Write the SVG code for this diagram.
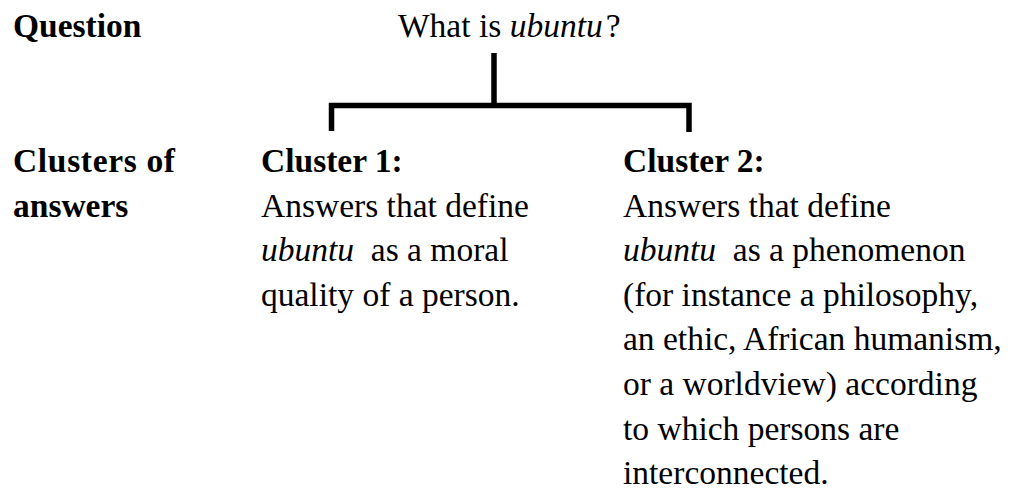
<svg xmlns="http://www.w3.org/2000/svg" width="1010" height="492" viewBox="0 0 1010 492">
<style>
text{font-family:"Liberation Serif","Times New Roman",serif;font-size:33.5px;fill:#000}
.b{font-weight:bold}
.i{font-style:italic}
.conn{fill:none;stroke:#000;stroke-width:5.5;stroke-linecap:butt;stroke-linejoin:miter}
</style>
<rect width="1010" height="492" fill="#fff"/>
<g id="label-question"><text class="b" x="13" y="37">Question</text></g>
<g id="question"><text x="398" y="37">What is <tspan class="i">ubuntu</tspan><tspan dx="3">?</tspan></text></g>
<g id="connectors">
<path class="conn" d="M494 53 V105.5"/>
<path class="conn" d="M331.5 131 V105.5 H689 V132"/>
</g>
<g id="label-clusters">
<text class="b" x="13" y="172" textLength="162">Clusters of</text>
<text class="b" x="13" y="216.6">answers</text>
</g>
<g id="cluster1">
<text class="b" x="261" y="172">Cluster 1:</text>
<text x="261" y="216.6">Answers that define</text>
<text x="261" y="261.2" xml:space="preserve"><tspan class="i">ubuntu</tspan>  as a moral</text>
<text x="261" y="305.8">quality of a person.</text>
</g>
<g id="cluster2">
<text class="b" x="623" y="172">Cluster 2:</text>
<text x="623" y="216.6">Answers that define</text>
<text x="623" y="261.2" xml:space="preserve"><tspan class="i">ubuntu</tspan>  as a phenomenon</text>
<text x="623" y="305.8">(for instance a philosophy,</text>
<text x="623" y="350.4">an ethic, African humanism,</text>
<text x="623" y="395">or a worldview) according</text>
<text x="623" y="439.6">to which persons are</text>
<text x="623" y="484.2">interconnected.</text>
</g>
</svg>
